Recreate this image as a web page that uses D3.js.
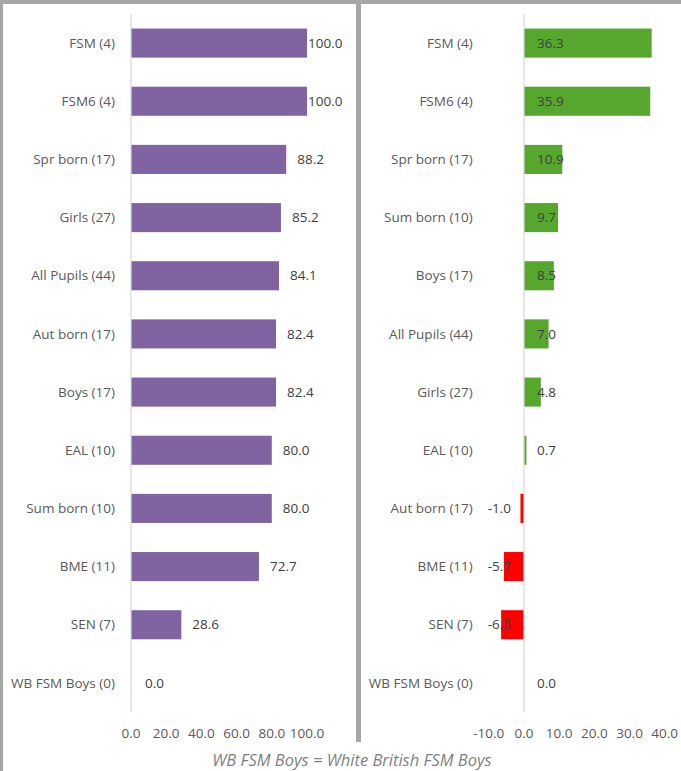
<!DOCTYPE html>
<html>
<head>
<meta charset="utf-8">
<script src="https://cdn.jsdelivr.net/npm/d3@7"></script>
<style>
  body { margin: 0; background: #fff; }
  svg { display: block; }
</style>
</head>
<body>
<svg width="681" height="771"></svg>
<script>
// left panel: % of pupils, right panel: gap vs. comparison
leftCats = ["FSM (4)", "FSM6 (4)", "Spr born (17)", "Girls (27)", "All Pupils (44)", "Aut born (17)",
            "Boys (17)", "EAL (10)", "Sum born (10)", "BME (11)", "SEN (7)", "WB FSM Boys (0)"]
leftVals = [100.0, 100.0, 88.2, 85.2, 84.1, 82.4, 82.4, 80.0, 80.0, 72.7, 28.6, 0.0]

rightCats = ["FSM (4)", "FSM6 (4)", "Spr born (17)", "Sum born (10)", "Boys (17)", "All Pupils (44)",
             "Girls (27)", "EAL (10)", "Aut born (17)", "BME (11)", "SEN (7)", "WB FSM Boys (0)"]
rightVals = [36.3, 35.9, 10.9, 9.7, 8.5, 7.0, 4.8, 0.7, -1.0, -5.7, -6.5, 0.0]

leftTicks = [0, 20, 40, 60, 80, 100]
rightTicks = [-10, 0, 10, 20, 30, 40]

caption = "WB FSM Boys = White British FSM Boys"

chartW = 681
chartH = 771
plotTop = 14
plotBottom = 712
textColor = "#595959"
fontSize = 13.5
font = "'Open Sans', sans-serif"

svg = d3.select("svg")
    .attr("font-family", font)

// frame lines
svg.append("rect").attr("x", 0).attr("y", 0).attr("width", chartW).attr("height", 4).attr("fill", "#a6a6a6")
svg.append("rect").attr("x", 0).attr("y", 0).attr("width", 3).attr("height", chartH).attr("fill", "#a6a6a6")
svg.append("rect").attr("x", 356).attr("y", 0).attr("width", 5).attr("height", 742).attr("fill", "#a6a6a6")

function panel(cats, vals, ticks, x0, x1, labelMode, colorFn) {
  const x = d3.scaleLinear().domain(d3.extent(ticks)).range([x0, x1])
  const y = d3.scaleBand().domain(cats).range([plotTop, plotBottom]).paddingInner(0.5).paddingOuter(0.25)
  const g = svg.append("g")

  // bars
  g.selectAll("rect.bar")
    .data(vals)
    .join("rect")
      .attr("class", "bar")
      .attr("x", d => x(Math.min(0, d)))
      .attr("y", (d, i) => y(cats[i]))
      .attr("width", d => Math.abs(x(d) - x(0)))
      .attr("height", y.bandwidth())
      .attr("fill", d => colorFn(d))

  // zero axis line
  g.append("line")
      .attr("x1", x(0)).attr("x2", x(0))
      .attr("y1", plotTop).attr("y2", plotBottom)
      .attr("stroke", "#d9d9d9").attr("stroke-width", 1.25)

  // category labels sit left of the plot area
  g.selectAll("text.cat")
    .data(cats)
    .join("text")
      .attr("class", "cat")
      .attr("x", x0 - 16)
      .attr("y", d => y(d) + y.bandwidth() / 2)
      .attr("dy", "0.35em")
      .attr("text-anchor", "end")
      .attr("font-size", fontSize)
      .attr("fill", textColor)
      .text(d => d)

  // value labels
  g.selectAll("text.val")
    .data(vals)
    .join("text")
      .attr("class", "val")
      .attr("x", d => {
        if (labelMode === "end") return Math.min(x(d) + (d === 0 ? 14 : 11), 308)
        return d < 0 ? x(0) - 13 : x(0) + 13
      })
      .attr("y", (d, i) => y(cats[i]) + y.bandwidth() / 2)
      .attr("dy", "0.35em")
      .attr("text-anchor", d => (labelMode !== "end" && d < 0) ? "end" : "start")
      .attr("font-size", fontSize)
      .attr("fill", "#404040")
      .text(d => d.toFixed(1))

  // x tick labels
  g.selectAll("text.tick")
    .data(ticks)
    .join("text")
      .attr("class", "tick")
      .attr("x", d => x(d))
      .attr("y", 738)
      .attr("text-anchor", "middle")
      .attr("font-size", fontSize)
      .attr("fill", textColor)
      .text(d => d.toFixed(1))
}

panel(leftCats, leftVals, leftTicks, 131, 307, "end", d => "#8064a2")
panel(rightCats, rightVals, rightTicks, 488.8, 664.7, "base", d => d < 0 ? "#ff0000" : "#57a72f")

svg.append("text")
    .attr("x", 352)
    .attr("y", 766)
    .attr("text-anchor", "middle")
    .attr("font-size", 16.5)
    .attr("font-style", "italic")
    .attr("fill", "#7f7f7f")
    .text(caption)
</script>
</body>
</html>
